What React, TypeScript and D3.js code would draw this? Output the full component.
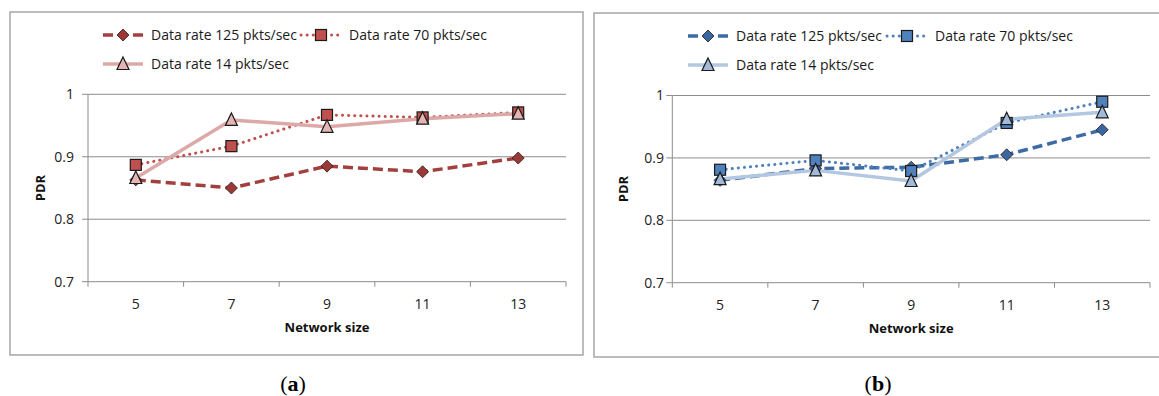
import React, { useEffect, useRef } from "react";
import * as d3 from "d3";

// network sizes on the x axis
const sizes = [5, 7, 9, 11, 13];
const yTicks = [0.7, 0.8, 0.9, 1];
const seriesNames = ["Data rate 125 pkts/sec", "Data rate 70 pkts/sec", "Data rate 14 pkts/sec"];

// panel (a)
const rate125A = [0.863, 0.85, 0.885, 0.876, 0.898];
const rate70A = [0.887, 0.917, 0.967, 0.963, 0.971];
const rate14A = [0.866, 0.959, 0.948, 0.961, 0.969];

// panel (b)
const rate125B = [0.864, 0.883, 0.885, 0.905, 0.945];
const rate70B = [0.881, 0.896, 0.879, 0.956, 0.99];
const rate14B = [0.866, 0.88, 0.863, 0.962, 0.973];

const FONT = "'Open Sans', 'DejaVu Sans', sans-serif";

const panelA = {
    box: { x: 10, y: 12, w: 573, h: 343 },
    plot: { l: 88, r: 566, t: 94.3, b: 281.7 },
    yLabelRight: 74, pdrX: 40, captionX: 293, caption: "a",
    legendRows: [35, 64], legendX: [103, 301, 103],
    colors: {
        line: ["#A3403D", "#C0504D", "#DCA9A8"],
        fill: ["#9B3936", "#C0504D", "#E3B5B4"]
    },
    data: [rate125A, rate70A, rate14A]
};

const panelB = {
    box: { x: 594, y: 13, w: 580, h: 344 },
    plot: { l: 672.3, r: 1150, t: 95.5, b: 282.7 },
    yLabelRight: 664, pdrX: 623, captionX: 878, caption: "b",
    legendRows: [36, 65], legendX: [688, 887, 688],
    colors: {
        line: ["#3D6BA3", "#4F81BD", "#B4C7E1"],
        fill: ["#3A67A0", "#4F81BD", "#A3B9D8"]
    },
    data: [rate125B, rate70B, rate14B]
};

const dashes = ["10,5", "0.1,6", null];

function drawMarker(g, kind, cx, cy, fill) {
    if (kind === 0) {
        g.append("path")
            .attr("d", `M${cx},${cy - 6}L${cx + 6},${cy}L${cx},${cy + 6}L${cx - 6},${cy}Z`)
            .attr("fill", fill).attr("stroke", "#2a1a1a").attr("stroke-width", 0.8);
    } else if (kind === 1) {
        g.append("rect")
            .attr("x", cx - 5.5).attr("y", cy - 5.5).attr("width", 11).attr("height", 11)
            .attr("fill", fill).attr("stroke", "#1a1a1a").attr("stroke-width", 1.2);
    } else {
        g.append("path")
            .attr("d", `M${cx},${cy - 7}L${cx + 6},${cy + 5.5}L${cx - 6},${cy + 5.5}Z`)
            .attr("fill", fill).attr("stroke", "#1a1a1a").attr("stroke-width", 1.2);
    }
}

function drawPanel(svgNode, p) {
    const svg = d3.select(svgNode).append("g");

    svg.append("rect")
        .attr("x", p.box.x).attr("y", p.box.y).attr("width", p.box.w).attr("height", p.box.h)
        .attr("fill", "white").attr("stroke", "#A6A6A6").attr("stroke-width", 1.5);

    const x = d3.scaleBand().domain(sizes.map(String)).range([p.plot.l, p.plot.r]).padding(0);
    const y = d3.scaleLinear().domain([0.7, 1]).range([p.plot.b, p.plot.t]);
    const cx = d => x(String(d)) + x.bandwidth() / 2;

    // gridlines
    svg.append("g").selectAll("line")
        .data(yTicks.filter(t => t > 0.7))
        .enter().append("line")
        .attr("x1", p.plot.l).attr("x2", p.plot.r)
        .attr("y1", d => y(d)).attr("y2", d => y(d))
        .attr("stroke", "#8C8C8C").attr("stroke-width", 1);

    // y axis
    svg.append("line")
        .attr("x1", p.plot.l).attr("x2", p.plot.l).attr("y1", p.plot.t).attr("y2", p.plot.b)
        .attr("stroke", "#8C8C8C").attr("stroke-width", 1);
    svg.append("g").selectAll("line")
        .data(yTicks).enter().append("line")
        .attr("x1", p.plot.l - 6).attr("x2", p.plot.l)
        .attr("y1", d => y(d)).attr("y2", d => y(d))
        .attr("stroke", "#8C8C8C");
    svg.append("g").selectAll("text")
        .data(yTicks).enter().append("text")
        .attr("x", p.yLabelRight).attr("y", d => y(d))
        .attr("dy", "0.35em").attr("text-anchor", "end")
        .style("font-family", FONT).style("font-size", "14px").attr("fill", "#222")
        .text(d => d === 1 ? "1" : d3.format(".1f")(d));

    // x axis
    svg.append("line")
        .attr("x1", p.plot.l).attr("x2", p.plot.r).attr("y1", p.plot.b).attr("y2", p.plot.b)
        .attr("stroke", "#8C8C8C").attr("stroke-width", 1);
    const bounds = sizes.map(s => x(String(s))).concat([p.plot.r]);
    svg.append("g").selectAll("line")
        .data(bounds).enter().append("line")
        .attr("x1", d => d).attr("x2", d => d)
        .attr("y1", p.plot.b).attr("y2", p.plot.b + 5)
        .attr("stroke", "#8C8C8C");
    svg.append("g").selectAll("text")
        .data(sizes).enter().append("text")
        .attr("x", d => cx(d)).attr("y", p.plot.b + 22)
        .attr("dy", "0.35em").attr("text-anchor", "middle")
        .style("font-family", FONT).style("font-size", "14px").attr("fill", "#222")
        .text(d => d);

    svg.append("text")
        .attr("x", (p.plot.l + p.plot.r) / 2).attr("y", p.plot.b + 46)
        .attr("dy", "0.35em").attr("text-anchor", "middle")
        .style("font-family", FONT).style("font-size", "13px").style("font-weight", "bold")
        .attr("fill", "#111")
        .text("Network size");

    svg.append("text")
        .attr("transform", `translate(${p.pdrX},${(p.plot.t + p.plot.b) / 2}) rotate(-90)`)
        .attr("dy", "0.35em").attr("text-anchor", "middle")
        .style("font-family", FONT).style("font-size", "13px").style("font-weight", "bold")
        .attr("fill", "#111")
        .text("PDR");

    // series lines then markers
    const line = d3.line().x((d, i) => cx(sizes[i])).y(d => y(d));
    p.data.forEach((vals, k) => {
        const path = svg.append("path")
            .attr("d", line(vals))
            .attr("fill", "none")
            .attr("stroke", p.colors.line[k])
            .attr("stroke-width", k === 1 ? 3 : 3.5)
            .attr("stroke-linecap", k === 1 ? "round" : "butt")
            .attr("stroke-linejoin", "round");
        if (dashes[k]) path.attr("stroke-dasharray", dashes[k]);
    });
    p.data.forEach((vals, k) => {
        const g = svg.append("g");
        vals.forEach((v, i) => drawMarker(g, k, cx(sizes[i]), y(v), p.colors.fill[k]));
    });

    // legend
    seriesNames.forEach((name, k) => {
        const lx = p.legendX[k];
        const ly = k === 2 ? p.legendRows[1] : p.legendRows[0];
        const seg = svg.append("line")
            .attr("x1", lx).attr("x2", lx + 40).attr("y1", ly).attr("y2", ly)
            .attr("stroke", p.colors.line[k])
            .attr("stroke-width", k === 1 ? 3 : 3.5)
            .attr("stroke-linecap", k === 1 ? "round" : "butt");
        if (dashes[k]) seg.attr("stroke-dasharray", dashes[k]);
        const g = svg.append("g");
        drawMarker(g, k, lx + 20, ly, p.colors.fill[k]);
        svg.append("text")
            .attr("x", lx + 48).attr("y", ly)
            .attr("dy", "0.35em")
            .style("font-family", FONT).style("font-size", "14px").attr("fill", "#1a1a1a")
            .text(name);
    });

    // caption
    const cap = svg.append("text")
        .attr("x", p.captionX).attr("y", 391)
        .attr("text-anchor", "middle")
        .style("font-family", "'Liberation Serif', 'DejaVu Serif', serif").style("font-size", "22px")
        .attr("fill", "#000");
    cap.append("tspan").text("(");
    cap.append("tspan").style("font-weight", "bold").text(p.caption);
    cap.append("tspan").text(")");
}

export default function App() {
    const svgRef = useRef(null);

    useEffect(() => {
        const node = svgRef.current;
        d3.select(node).selectAll("*").remove();
        drawPanel(node, panelA);
        drawPanel(node, panelB);
    }, []);

    return (
        <svg
            ref={svgRef}
            width={1159}
            height={396}
            style={{ position: "absolute", left: 0, top: 0, background: "white" }}
        />
    );
}
